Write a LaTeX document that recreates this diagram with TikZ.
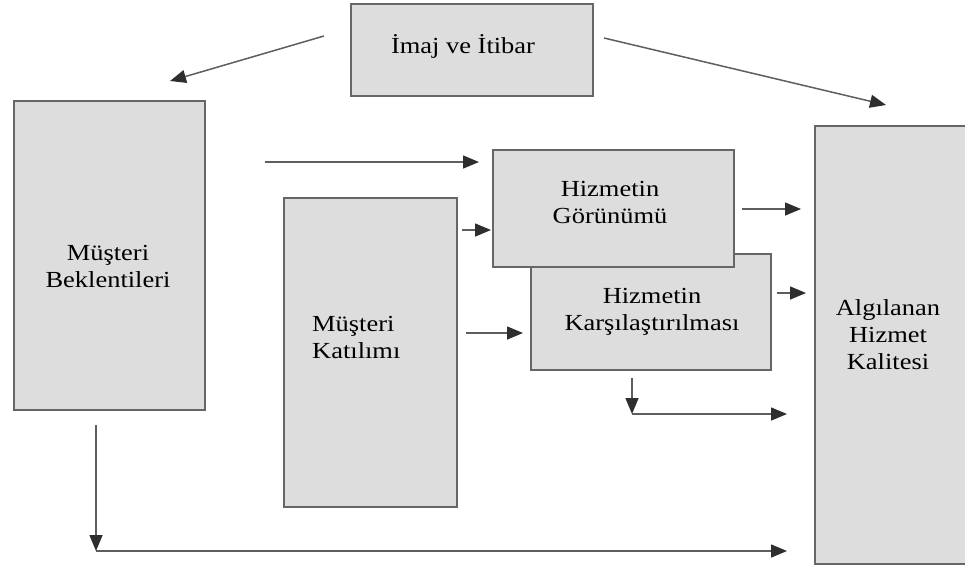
\documentclass[tikz,border=0pt]{standalone}
\usepackage{fontspec}
\setmainfont[FakeStretch=1.15]{Liberation Serif}
\usetikzlibrary{arrows.meta}
\definecolor{boxfill}{HTML}{DDDDDD}
\definecolor{boxline}{HTML}{666666}
\definecolor{arrowline}{HTML}{5E5E5E}
\definecolor{arrowhead}{HTML}{2E2E2E}
\begin{document}
\begin{tikzpicture}[x=1pt,y=-1pt,
  box/.style={draw=boxline, fill=boxfill, line width=1.7pt, inner sep=0pt, anchor=north west},
  lbl/.style={font=\fontsize{23}{27}\selectfont, align=center, inner sep=0pt, text=black},
  conn/.style={draw=arrowline, line width=1.5pt,
    -{Triangle[length=16pt,width=13pt,color=arrowhead]}},
]
\useasboundingbox (0,0) rectangle (965,568);
\clip (0,0) rectangle (965,568);

% boxes
\node[box, minimum width=242pt, minimum height=92pt] (imaj) at (350,3) {};
\node[box, minimum width=191pt, minimum height=309pt] (bekl) at (13,100) {};
\node[box, minimum width=173pt, minimum height=309pt] (katil) at (283,197) {};
\node[box, minimum width=240pt, minimum height=116pt] (karsi) at (530,253) {};
\node[box, minimum width=241pt, minimum height=117pt] (gorun) at (492,149) {};
\node[box, minimum width=170pt, minimum height=438pt] (kalite) at (814,125) {};

% labels
\node[lbl] (imajT) at (463,46) {İmaj ve İtibar};
\node[lbl] (beklT) at (108,266) {Müşteri\\Beklentileri};
\node[lbl, align=left, anchor=west] (katilT) at (312,337) {Müşteri\\Katılımı};
\node[lbl] (gorunT) at (610,202) {Hizmetin\\Görünümü};
\node[lbl] (karsiT) at (652,312) {Hizmetin\\Karşılaştırılması};
\node[lbl] (kaliteT) at (888,335) {Algılanan\\Hizmet\\Kalitesi};

% connector end points
\coordinate (a1s) at (324,36);  \coordinate (a1e) at (170,81);
\coordinate (a2s) at (604,38);  \coordinate (a2e) at (886,105);
\coordinate (a3s) at (265,162); \coordinate (a3e) at (479,162);
\coordinate (a4s) at (462,230); \coordinate (a4e) at (491,230);
\coordinate (a5s) at (466,333); \coordinate (a5e) at (523,333);
\coordinate (a6s) at (742,209); \coordinate (a6e) at (801,209);
\coordinate (a7s) at (777,293); \coordinate (a7e) at (806,293);
\coordinate (b1s) at (632,378); \coordinate (b1c) at (632,414); \coordinate (b1e) at (787,414);
\coordinate (b2s) at (96,425);  \coordinate (b2c) at (96,551);  \coordinate (b2e) at (787,551);

% connectors
\draw[conn] (a1s) -- (a1e);
\draw[conn] (a2s) -- (a2e);
\draw[conn] (a3s) -- (a3e);
\draw[conn] (a4s) -- (a4e);
\draw[conn] (a5s) -- (a5e);
\draw[conn] (a6s) -- (a6e);
\draw[conn] (a7s) -- (a7e);
\draw[conn] (b1c) -- (b1e);
\draw[conn] (b1s) -- (b1c);
\draw[conn] (b2c) -- (b2e);
\draw[conn] (b2s) -- (b2c);
\end{tikzpicture}
\end{document}
